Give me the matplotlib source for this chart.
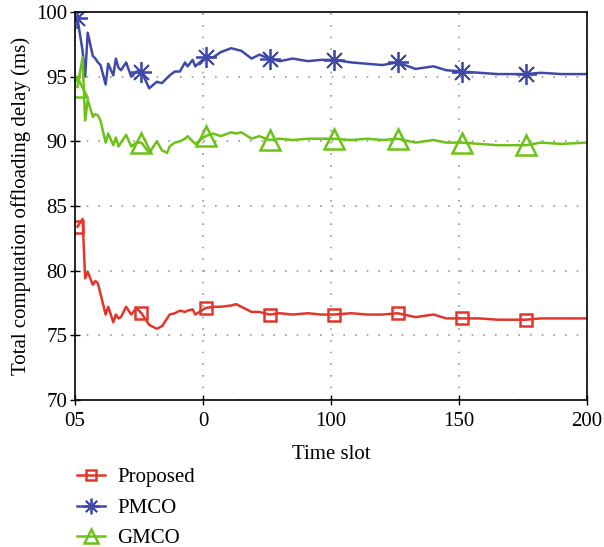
import matplotlib.pyplot as plt
from matplotlib.lines import Line2D

time_slot = [1, 3, 4, 5, 7, 8, 9, 10, 12, 13, 15, 16, 17, 18, 20, 22, 24, 26, 29, 32,
             34, 36, 37, 39, 41, 43, 44, 46, 47, 51, 54, 57, 61, 63, 65, 69, 72, 76, 80, 85,
             91, 96, 101, 108, 114, 120, 126, 133, 140, 145, 151, 158, 165, 171, 176, 182, 190, 200]

proposed = [83.4, 84.0, 79.4, 79.9, 78.9, 79.2, 79.0, 78.2, 76.6, 77.2, 76.0, 76.6, 76.3, 76.4, 77.2, 76.6, 77.1, 76.7, 75.8, 75.5,
            75.7, 76.3, 76.6, 76.7, 76.9, 76.8, 76.9, 77.0, 76.6, 77.1, 77.2, 77.2, 77.3, 77.4, 77.2, 76.8, 76.8, 76.6, 76.7, 76.6,
            76.7, 76.6, 76.6, 76.7, 76.6, 76.6, 76.7, 76.4, 76.6, 76.3, 76.3, 76.3, 76.2, 76.2, 76.2, 76.3, 76.3, 76.3]

pmco = [99.5, 97.0, 95.0, 98.4, 96.6, 96.4, 96.1, 95.9, 94.4, 96.0, 95.1, 96.4, 95.7, 95.5, 96.1, 95.0, 95.4, 95.4, 94.1, 94.6,
        94.5, 94.9, 95.1, 95.4, 95.4, 96.1, 95.8, 96.3, 95.8, 96.5, 96.5, 96.9, 97.2, 97.1, 97.0, 96.4, 96.7, 96.4, 96.2, 96.4,
        96.2, 96.3, 96.3, 96.1, 96.0, 95.9, 96.1, 95.6, 95.8, 95.5, 95.4, 95.3, 95.2, 95.2, 95.2, 95.3, 95.2, 95.2]

gmco = [94.2, 96.5, 91.6, 93.2, 91.9, 92.1, 92.0, 91.6, 89.9, 90.6, 89.7, 90.3, 89.6, 89.9, 90.5, 89.6, 89.9, 89.9, 89.1, 90.0,
        89.3, 89.1, 89.6, 89.9, 90.0, 90.2, 90.4, 90.0, 89.8, 90.4, 90.6, 90.4, 90.7, 90.6, 90.7, 90.2, 90.4, 90.1, 90.2, 90.1,
        90.2, 90.2, 90.2, 90.1, 90.2, 90.1, 90.2, 89.9, 90.1, 89.9, 89.9, 89.8, 89.7, 89.7, 89.7, 89.9, 89.8, 89.9]

marker_slots = [1, 26, 51, 76, 101, 126, 151, 176]
xtick_pos = [0, 50, 100, 150, 200]
xtick_labels = ['05', '0', '100', '150', '200']
ytick_pos = [70, 75, 80, 85, 90, 95, 100]

plt.rcParams['font.family'] = ['Liberation Serif', 'DejaVu Serif']
plt.rcParams['font.size'] = 15

marks = [time_slot.index(s) for s in marker_slots]

fig = plt.figure(figsize=(6.04, 5.47), dpi=100)
ax = fig.add_axes([0.124, 0.269, 0.848, 0.709])

series = [
    ('Proposed', proposed, '#e2362a', 's', 9, 1.8),
    ('PMCO', pmco, '#3f4aa8', (8, 2, 0), 15, 1.3),
    ('GMCO', gmco, '#6cc217', '^', 14, 1.8),
]
handles = []
for name, vals, col, mk, ms, mew in series:
    ax.plot(time_slot, vals, color=col, lw=1.8, marker=mk, markevery=marks,
            markersize=ms, markerfacecolor='none', markeredgecolor=col, markeredgewidth=mew)
    handles.append(Line2D([], [], color=col, lw=1.8, marker=mk, markersize=ms * 0.75,
                          markerfacecolor='none', markeredgecolor=col, markeredgewidth=mew))

ax.set_xlim(0, 200)
ax.set_ylim(70, 100)
ax.set_xticks(xtick_pos)
ax.set_xticklabels(xtick_labels)
ax.set_yticks(ytick_pos)
ax.tick_params(direction='inout', length=7, width=1, labelsize=15, pad=2)
ax.tick_params(axis='x', pad=5)
ax.grid(True, color='#999999', linestyle=(0, (1, 6)), linewidth=1.2)
for s in ax.spines.values():
    s.set_linewidth(1.2)

ax.set_xlabel('Time slot', fontsize=15, labelpad=10)
ax.set_ylabel('Total computation offloading delay (ms)', fontsize=15, labelpad=4)

fig.legend(handles, ['Proposed', 'PMCO', 'GMCO'], loc='upper left',
           bbox_to_anchor=(0.113, 0.16), frameon=False, fontsize=15,
           handlelength=1.35, labelspacing=0.52, borderaxespad=0, handletextpad=0.6)

plt.savefig('out.png', dpi=100)
